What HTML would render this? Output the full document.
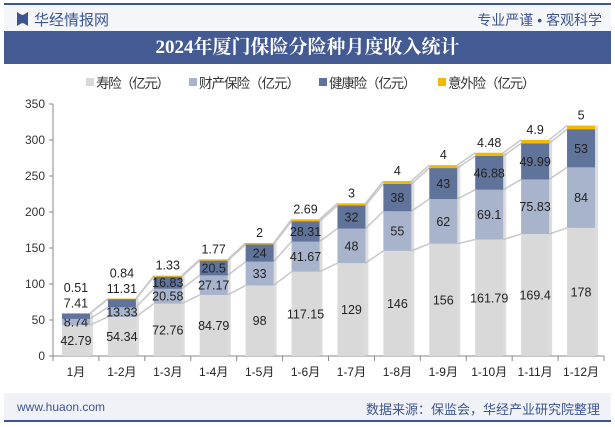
<!DOCTYPE html>
<html><head><meta charset="utf-8"><style>
body{margin:0;width:615px;height:427px;background:#fff;font-family:"Liberation Sans","Noto Sans CJK SC",sans-serif;overflow:hidden;position:relative}
.abs{position:absolute}
</style></head><body>
<div class="abs" style="left:4px;top:3px;width:607px;height:2px;background:#3d5590"></div>
<div class="abs" style="left:4px;top:5px;width:607px;height:26px;background:#f4f6fa"></div>
<div class="abs" style="left:17px;top:12px;width:11px;height:14px;background:#3d5590;clip-path:polygon(0 0,40% 20%,60% 20%,100% 0,100% 100%,60% 80%,40% 80%,0 100%)"></div>
<div class="abs" style="left:34px;top:9px;font-size:15px;color:#3d5590">华经情报网</div>
<div class="abs" style="right:13px;top:10px;font-size:14px;color:#3d5590">专业严谨 • 客观科学</div>
<div class="abs" style="left:4px;top:31px;width:607px;height:33px;background:#435b92;color:#fff;font-family:'Liberation Serif','Noto Serif CJK SC',serif;font-weight:bold;font-size:19px;text-align:center;line-height:33px">2024年厦门保险分险种月度收入统计</div>
<div class="abs" style="left:4px;top:393px;width:607px;height:28px;background:#f0f2f8"></div>
<div class="abs" style="left:4px;top:420px;width:607px;height:2px;background:#3d5590"></div>
<div class="abs" style="left:17px;top:400px;font-size:12px;color:#3d5590">www.huaon.com</div>
<div class="abs" style="right:15px;top:399px;font-size:13px;color:#3d5590">数据来源：保监会，华经产业研究院整理</div>
<svg class="abs" style="left:0;top:0" width="615" height="427">
<g id="legend"></g>
<g id="plot"></g>
</svg>
<script>
const categories=["1月","1-2月","1-3月","1-4月","1-5月","1-6月","1-7月","1-8月","1-9月","1-10月","1-11月","1-12月"];
const life=[42.79,54.34,72.76,84.79,98,117.15,129,146,156,161.79,169.4,178];
const property=[8.74,13.33,20.58,27.17,33,41.67,48,55,62,69.1,75.83,84];
const health=[7.41,11.31,16.83,20.5,24,28.31,32,38,43,46.88,49.99,53];
const accident=[0.51,0.84,1.33,1.77,2,2.69,3,4,4,4.48,4.9,5];
const yTicks=[0,50,100,150,200,250,300,350];
const seriesNames=["寿险（亿元）","财产保险（亿元）","健康险（亿元）","意外险（亿元）"];
const colors=["#d9d9d9","#a8b3cc","#5f739b","#f5b800"];
const NS="http://www.w3.org/2000/svg";
const X0=53,X1=604,Y0=356,Ymax=350,Ytop=104,BW=28;
const bandW=(X1-X0)/categories.length;
const xc=i=>X0+bandW*(i+0.5);
const y=v=>Y0-(v/Ymax)*(Y0-Ytop);
const plot=document.getElementById('plot'),leg=document.getElementById('legend');
function mk(t,a,p){const e=document.createElementNS(NS,t);for(const k in a)e.setAttribute(k,a[k]);(p||plot).appendChild(e);return e;}
const lx=[86,189,319,438];
seriesNames.forEach((n,i)=>{
 const r=mk('rect',{x:lx[i],y:78,width:8,height:8,fill:colors[i]},leg);
 
 
 const t=mk('text',{x:lx[i]+10,y:88,'font-size':13.5,fill:'#333',textLength:(n.length>6?(n.length-2)*13.5+20:4*13.5+20)},leg);t.textContent=n;
 
 
});
const ax=mk('line',{x1:X0,y1:Ytop,x2:X0,y2:Y0,stroke:'#888'});


const bx=mk('line',{x1:X0,y1:Y0,x2:X1,y2:Y0,stroke:'#888'});


yTicks.forEach(v=>{
 mk('line',{x1:X0-4,y1:y(v),x2:X0,y2:y(v),stroke:'#888'});
 const t=mk('text',{x:X0-8,y:y(v)+4,'font-size':12,'text-anchor':'end',fill:'#333'});t.textContent=v;
 
 
});
for(let i=0;i<=categories.length;i++)mk('line',{x1:X0+bandW*i,y1:Y0,x2:X0+bandW*i,y2:Y0+5,stroke:'#888'});
const series=[life,property,health,accident];
for(let i=0;i<categories.length-1;i++){let c0=0,c1=0;series.forEach(s=>{c0+=s[i];c1+=s[i+1];
 mk('line',{x1:xc(i)+BW/2,y1:y(c0),x2:xc(i+1)-BW/2,y2:y(c1),stroke:'#c8c8c8','stroke-width':1.5});});}
categories.forEach((c,i)=>{
 const tot=life[i]+property[i]+health[i]+accident[i];
 mk('rect',{x:xc(i)-BW/2+3,y:y(tot),width:BW,height:Y0-y(tot),fill:'#bbb',opacity:0.5});
 let cum=0;
 series.forEach((s,k)=>{
  const top=y(cum+s[i]),bot=y(cum);
  const r=mk('rect',{x:xc(i)-BW/2,y:top,width:BW,height:Math.max(bot-top,0.5),fill:colors[k]});
  
  
  let ly=(top+bot)/2+4.5;
  if(k===2&&bot-top<12)ly=top-6;
  if(k===3)ly=top-(health[i]*0.72<12?21:6);
  const t=mk('text',{x:xc(i),y:ly,'font-size':12.5,'text-anchor':'middle',fill:'#222'});t.textContent=s[i];
  
  
  cum+=s[i];
 });
 const t=mk('text',{x:xc(i),y:Y0+20,'font-size':12,'text-anchor':'middle',fill:'#222'});t.textContent=c;
 
 
});
</script>
</body></html>
